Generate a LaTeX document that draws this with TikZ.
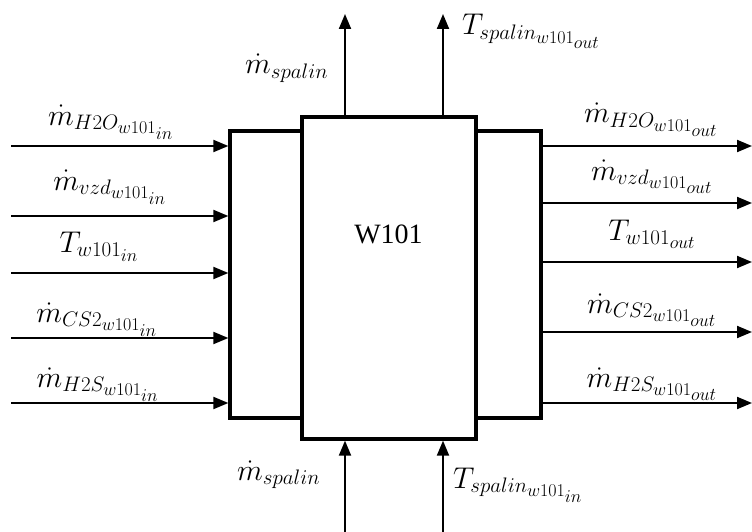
\RequirePackage{fix-cm}
\documentclass[tikz,border=0pt]{standalone}
\usepackage{fontspec}
\newfontfamily\tnr{Liberation Serif}
\DeclareMathSizes{30}{30}{21}{18}
\usetikzlibrary{arrows.meta}
\begin{document}
\begin{tikzpicture}[x=1pt,y=-1pt,
  boxline/.style={draw, line width=3.3pt, inner sep=0pt},
  flow/.style={line width=2pt, -{Triangle[length=15pt,width=12pt]}},
  lab/.style={inner sep=0pt, anchor=base, font=\fontsize{30}{34}\selectfont},
  labw/.style={lab, anchor=base west}]
\useasboundingbox (0,0) rectangle (752,532);
\node[boxline, minimum width=311pt, minimum height=287pt] (wing) at (385.5,274.5) {};
\node[boxline, fill=white, minimum width=174pt, minimum height=322pt] (core) at (389,278) {};
\node[inner sep=0pt, anchor=base, font=\tnr\fontsize{28}{32}\selectfont] (name) at (388.5,243) {W101};
% left inputs
\foreach \y/\n in {146/a,216/b,273/c,338/d,403/e}{
  \coordinate (l\n) at (11,\y);
  \draw[flow] (l\n) -- (wing.west |- l\n);
}
\node[lab] (la) at (111,125) {$\dot m_{H2O_{w101_{in}}}$};
\node[lab] (lb) at (110,190) {$\dot m_{vzd_{w101_{in}}}$};
\node[lab] (lc) at (99,252) {$T_{w101_{in}}$};
\node[lab] (ld) at (97,322) {$\dot m_{CS2_{w101_{in}}}$};
\node[lab] (le) at (98,387) {$\dot m_{H2S_{w101_{in}}}$};
% right outputs
\foreach \y/\n in {146/a,203/b,262/c,332/d,403/e}{
  \coordinate (r\n) at (752,\y);
  \draw[flow] (wing.east |- r\n) -- (r\n);
}
\node[lab] (ra) at (651,123) {$\dot m_{H2O_{w101_{out}}}$};
\node[lab] (rb) at (652,180) {$\dot m_{vzd_{w101_{out}}}$};
\node[lab] (rc) at (652,240) {$T_{w101_{out}}$};
\node[lab] (rd) at (652,313) {$\dot m_{CS2_{w101_{out}}}$};
\node[lab] (re) at (652,387) {$\dot m_{H2S_{w101_{out}}}$};
% top outputs
\coordinate (ta) at (345,14);
\coordinate (tb) at (443,14);
\draw[flow] (core.north -| ta) -- (ta);
\draw[flow] (core.north -| tb) -- (tb);
\node[labw] (tla) at (245,74) {$\dot m_{spalin}$};
\node[labw] (tlb) at (462,35) {$T_{spalin_{w101_{out}}}$};
% bottom inputs
\coordinate (ba) at (345,532);
\coordinate (bb) at (443,532);
\draw[flow] (ba) -- (core.south -| ba);
\draw[flow] (bb) -- (core.south -| bb);
\node[labw] (bla) at (237,480) {$\dot m_{spalin}$};
\node[labw] (blb) at (453,488) {$T_{spalin_{w101_{in}}}$};
\end{tikzpicture}
\end{document}
